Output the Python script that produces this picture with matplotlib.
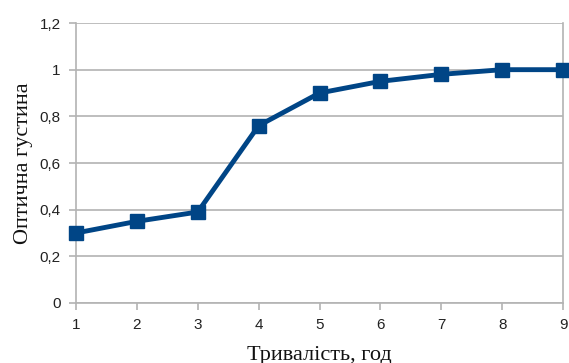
import matplotlib.pyplot as plt

hours = [1, 2, 3, 4, 5, 6, 7, 8, 9]
density = [0.30, 0.35, 0.39, 0.76, 0.90, 0.95, 0.98, 1.00, 1.00]
y_ticks = [0, 0.2, 0.4, 0.6, 0.8, 1.0, 1.2]
y_labels = ['0', '0,2', '0,4', '0,6', '0,8', '1', '1,2']

fig = plt.figure(figsize=(5.69, 3.63), dpi=100)
ax = fig.add_axes([0.1336, 0.1653, 0.8559, 0.7713])

grid_col = '#b3b3b3'
ax.plot(hours, density, color='#004586', linewidth=3.5, marker='s',
        markersize=10, zorder=3, clip_on=False)

ax.set_xlim(1, 9)
ax.set_ylim(0, 1.2)
ax.set_xticks(hours)
ax.set_yticks(y_ticks)
ax.set_yticklabels(y_labels)
ax.grid(axis='y', color=grid_col, linewidth=1.2)

ax.spines['top'].set_visible(False)
for side in ['left', 'right', 'bottom']:
    ax.spines[side].set_color(grid_col)
    ax.spines[side].set_linewidth(1.2)

ax.tick_params(axis='both', colors=grid_col, length=5, width=1.2,
               labelcolor='#222222', labelsize=11, pad=6)
for lbl in ax.get_xticklabels() + ax.get_yticklabels():
    lbl.set_family('Liberation Sans')

ax.set_xlabel('Тривалість, год', family='Liberation Serif', fontsize=16,
              color='#111111', labelpad=10)
ax.set_ylabel('Оптична густина', family='Liberation Serif', fontsize=16,
              color='#111111', labelpad=5)

fig.savefig('out.png', dpi=100)
